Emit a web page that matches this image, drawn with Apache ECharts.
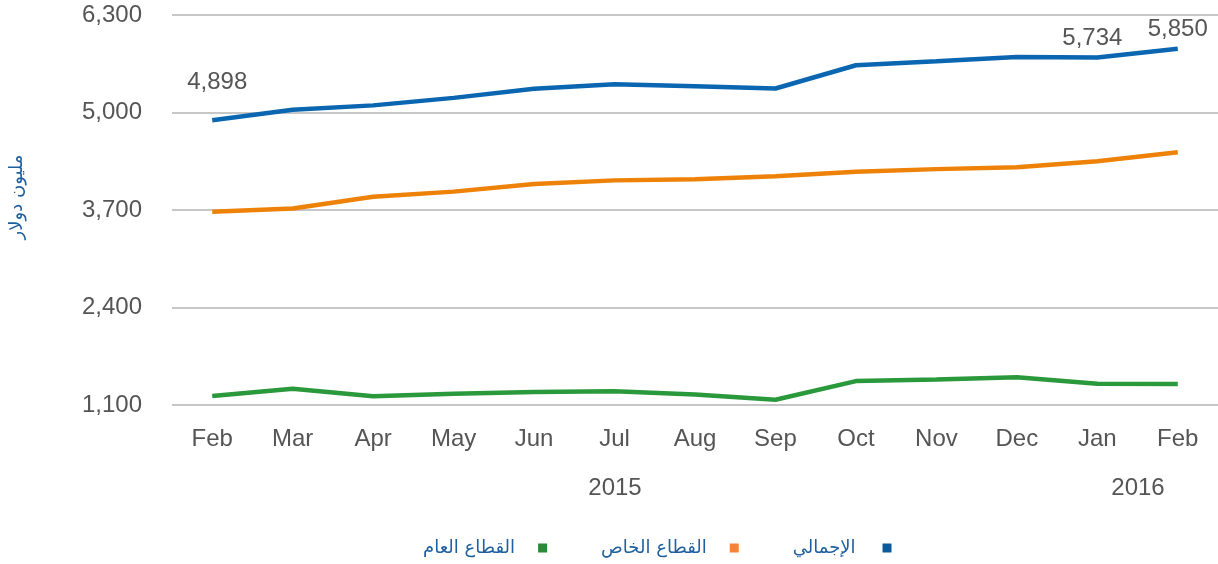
<!DOCTYPE html>
<html>
<head>
<meta charset="utf-8">
<script src="https://cdn.jsdelivr.net/npm/echarts@6/dist/echarts.min.js"></script>
<style>
  html, body { margin: 0; padding: 0; background: #fff; }
  #chart { width: 1218px; height: 564px; }
</style>
</head>
<body>
<div id="chart"></div>
<script>
// months Feb 2015 .. Feb 2016
const months = ['Feb', 'Mar', 'Apr', 'May', 'Jun', 'Jul', 'Aug', 'Sep', 'Oct', 'Nov', 'Dec', 'Jan', 'Feb']
const totalValues = [4898, 5037, 5095, 5195, 5318, 5378, 5350, 5320, 5630, 5684, 5741, 5734, 5850]
const privateValues = [3678, 3720, 3877, 3945, 4046, 4095, 4111, 4150, 4211, 4245, 4270, 4350, 4469]
const publicValues = [1220, 1317, 1218, 1250, 1272, 1283, 1239, 1170, 1419, 1439, 1471, 1384, 1381]
const labelledTotal = [0, 11, 12]  // points with a value label
const yTicks = { min: 1100, max: 6300, interval: 1300 }

const txt = '#555'
const arabicFont = "'DejaVu Sans', sans-serif"

const chart = echarts.init(document.getElementById('chart'))

const totalData = totalValues.map((v, i) => {
  if (labelledTotal.indexOf(i) < 0) return v
  return {
    value: v,
    label: {
      show: true,
      position: 'top',
      distance: i === 0 ? 26 : 7,
      offset: i === 0 ? [5, 0] : (i === 11 ? [-5, 0] : [0, 0]),
      formatter: p => p.value.toLocaleString('en-US'),
      fontSize: 24,
      color: txt,
      fontFamily: 'Liberation Sans'
    }
  }
})

chart.setOption({
  animation: false,
  textStyle: { fontFamily: 'Liberation Sans' },
  grid: { left: 172, right: 0, top: 15, bottom: 159, outerBoundsMode: 'none', containLabel: false },
  legend: {
    bottom: 2,
    left: 418,
    align: 'right',
    itemWidth: 9,
    itemHeight: 9,
    itemGap: 54,
    icon: 'rect',
    textStyle: { fontFamily: arabicFont, fontSize: 18, color: '#1e5f9f', padding: [0, 18, 0, 0] },
    data: [
      { name: 'القطاع العام', itemStyle: { color: '#2b8a36' } },
      { name: 'القطاع الخاص', itemStyle: { color: '#f58434' } },
      { name: 'الإجمالي', itemStyle: { color: '#0b5a9c' }, textStyle: { padding: [0, 22, 0, 8] } }
    ]
  },
  xAxis: {
    type: 'category',
    data: months,
    axisLine: { show: false },
    axisTick: { show: false },
    axisLabel: { fontSize: 24, color: txt, margin: 22 }
  },
  yAxis: {
    type: 'value',
    min: yTicks.min,
    max: yTicks.max,
    interval: yTicks.interval,
    name: 'مليون دولار',
    nameLocation: 'middle',
    nameGap: 146,
    nameRotate: 90,
    nameTextStyle: { fontFamily: arabicFont, fontSize: 18, color: '#1e5f9f', padding: [0, 0, 0, 26] },
    axisLabel: {
      fontSize: 24,
      color: txt,
      margin: 30,
      formatter: v => v.toLocaleString('en-US')
    },
    splitLine: { lineStyle: { color: '#b4b4b4', width: 1.5 } }
  },
  graphic: [
    { type: 'text', x: 615, y: 488, style: { text: '2015', fontSize: 24, fill: txt, fontFamily: 'Liberation Sans', align: 'center', verticalAlign: 'middle' } },
    { type: 'text', x: 1138, y: 488, style: { text: '2016', fontSize: 24, fill: txt, fontFamily: 'Liberation Sans', align: 'center', verticalAlign: 'middle' } }
  ],
  series: [
    {
      name: 'الإجمالي',
      type: 'line',
      data: totalData,
      symbol: 'circle',
      symbolSize: 0,
      showSymbol: true,
      lineStyle: { color: '#0a66b0', width: 4.5 },
      itemStyle: { color: '#0a66b0' },
      z: 3
    },
    {
      name: 'القطاع الخاص',
      type: 'line',
      data: privateValues,
      symbol: 'none',
      lineStyle: { color: '#ee8208', width: 4.5 },
      itemStyle: { color: '#ee8208' }
    },
    {
      name: 'القطاع العام',
      type: 'line',
      data: publicValues,
      symbol: 'none',
      lineStyle: { color: '#2a993b', width: 4.5 },
      itemStyle: { color: '#2a993b' }
    }
  ]
})
</script>
</body>
</html>
